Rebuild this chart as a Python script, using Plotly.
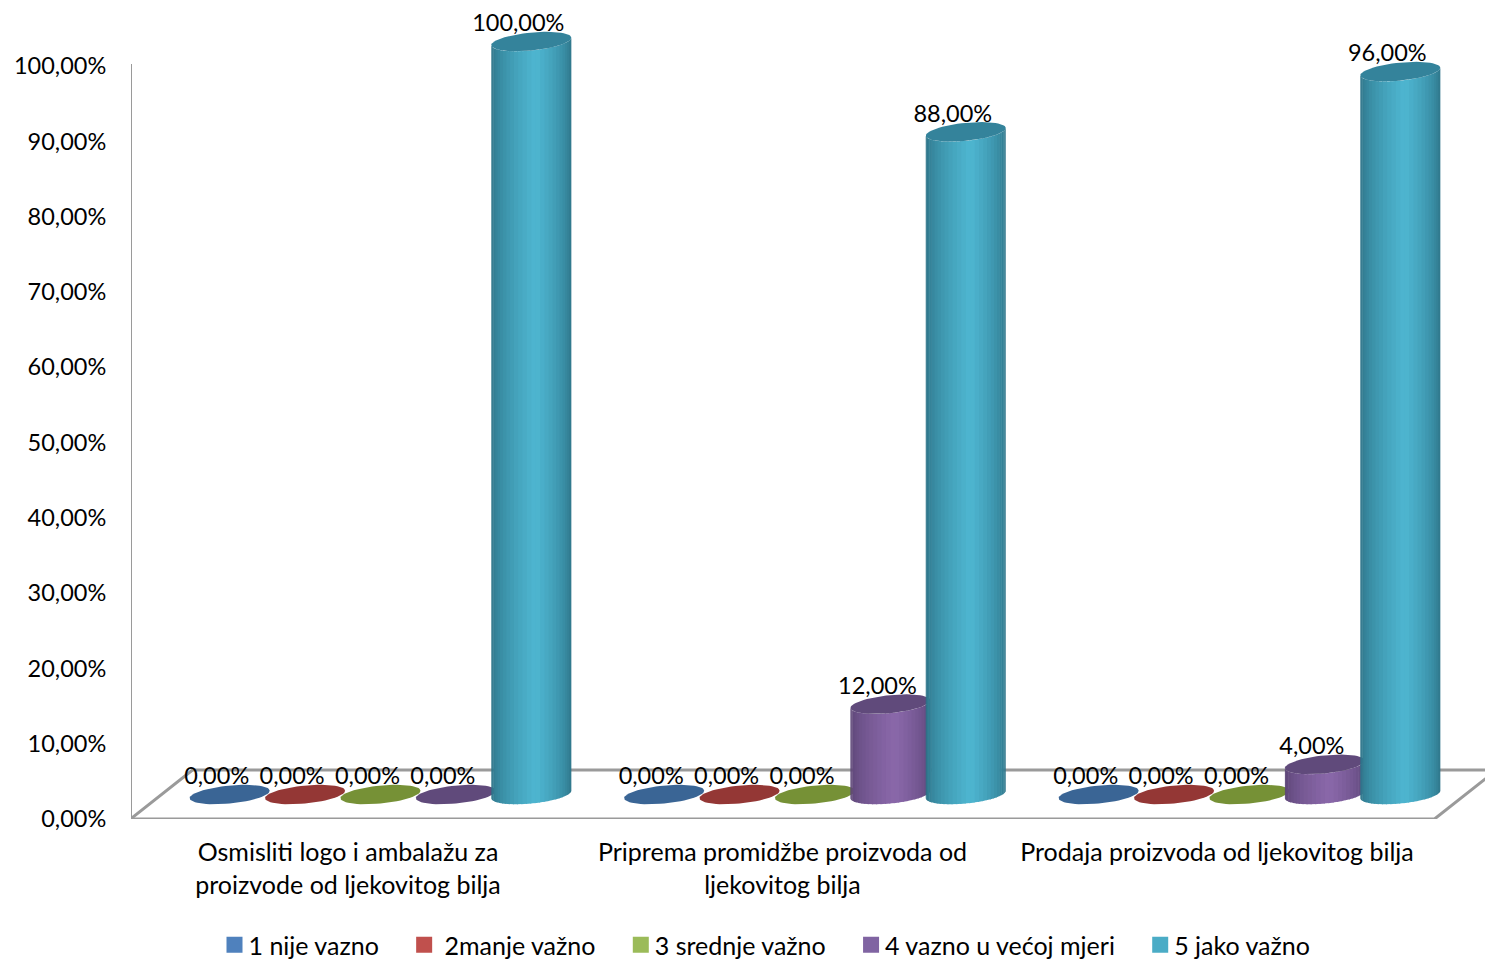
import math
import plotly.graph_objects as go

GAP = "\u00a0\u00a0\u00a0\u2009"
categories = ["Osmisliti logo i ambalažu za<br>proizvode od ljekovitog bilja",
              "Priprema promidžbe proizvoda od<br>ljekovitog bilja",
              "Prodaja proizvoda od ljekovitog bilja"]
series_names = ["1 nije vazno" + GAP, "\u00a02manje važno" + GAP,
                "3 srednje važno" + GAP, "4 vazno u većoj mjeri" + GAP, "5 jako važno"]
s1 = [0, 0, 0]
s2 = [0, 0, 0]
s3 = [0, 0, 0]
s4 = [0, 12, 4]
s5 = [100, 88, 96]
y_ticks = [0, 10, 20, 30, 40, 50, 60, 70, 80, 90, 100]

legend_colors = ["#4f81bd", "#c0504d", "#9bbb59", "#8064a2", "#4bacc6"]
cap_colors = ["#3a6595", "#943735", "#769136", "#604a7b", "#34839b"]
edge_colors = [(46, 80, 120), (120, 45, 43), (95, 118, 45), (88, 66, 114), (42, 110, 130)]
mid_colors = [(79, 129, 189), (192, 80, 77), (155, 187, 89), (138, 104, 170), (78, 182, 209)]
series = [s1, s2, s3, s4, s5]

W, H = 1485, 960
X0_PX, CAT_PX = 348.0, 434.5        # first category centre, category pitch
Y0_PX, PX_PER_UNIT = 819.0, 7.53    # value 0 position, pixels per percent
SLOT_PX, GROUP_SHIFT = 75.4, 32.5
A, B, TILT = 40.0, 9.0, 3.8         # cylinder ellipse
FLOOR_LIFT = 24.5


def dx(px):
    return px / CAT_PX


def dy(px):
    return px / PX_PER_UNIT


def pct(v):
    return ("%.2f" % v).replace(".", ",") + "%"


def ellipse(cx, v, t):
    """Point on a cylinder ring at value v; returns data coords."""
    return (cx + dx(A * math.cos(t)),
            v + dy(FLOOR_LIFT) - dy(B * math.sin(t) - TILT * math.cos(t)))


def shade(s, t):
    u = math.cos(t)
    f = max(0.0, 1 - abs(u - 0.1) / (1.1 if u < 0.1 else 0.9)) ** 0.55
    return "rgb(%d,%d,%d)" % tuple(round(e + (m - e) * f) for e, m in zip(edge_colors[s], mid_colors[s]))


fig = go.Figure()

# frame / floor
FX = 1304 / CAT_PX
left = dx(130.5 - X0_PX)
fig.add_trace(go.Scatter(
    x=[left, left, left + FX, left + FX + dx(62), None, left, left + dx(62), left + FX + dx(62)],
    y=[100 + dy(2), 0, 0, dy(49), None, 0, dy(49), dy(49)],
    mode="lines", line=dict(color="#9a9a9a", width=3), showlegend=False, hoverinfo="skip",
    cliponaxis=False))

N = 28
for c in range(len(categories)):
    for s, vals in enumerate(series):
        cx = c + dx(GROUP_SHIFT + (s - 2) * SLOT_PX)
        v = vals[c]
        if v > 0:
            for i in range(N):
                t0 = math.pi * i / N
                t1 = min(math.pi * (i + 1.25) / N, math.pi)
                b0, b1 = ellipse(cx, 0, t0), ellipse(cx, 0, t1)
                a0, a1 = ellipse(cx, v, t0), ellipse(cx, v, t1)
                col = shade(s, (t0 + t1) / 2)
                fig.add_trace(go.Scatter(
                    x=[a0[0], a1[0], b1[0], b0[0]], y=[a0[1], a1[1], b1[1], b0[1]],
                    mode="lines", fill="toself", fillcolor=col, line=dict(width=0),
                    showlegend=False, hoverinfo="skip"))
        pts = [ellipse(cx, v, 2 * math.pi * k / 60) for k in range(61)]
        fig.add_trace(go.Scatter(
            x=[p[0] for p in pts], y=[p[1] for p in pts],
            mode="lines", fill="toself", fillcolor=cap_colors[s], line=dict(width=0),
            showlegend=False, hoverinfo="skip"))

# data labels
lx, ly, lt = [], [], []
for c in range(len(categories)):
    for s, vals in enumerate(series):
        lx.append(c + dx(GROUP_SHIFT + (s - 2) * SLOT_PX - 13))
        ly.append(vals[c] + dy(FLOOR_LIFT + 16))
        lt.append(pct(vals[c]))
fig.add_trace(go.Scatter(x=lx, y=ly, text=lt, mode="text", textposition="middle center",
                         textfont=dict(family="Lato", size=23.5, color="#000000"),
                         showlegend=False, hoverinfo="skip"))

# legend
for name, col in zip(series_names, legend_colors):
    fig.add_trace(go.Scatter(x=[None], y=[None], mode="markers", name=name,
                             marker=dict(symbol="square", size=16, color=col)))

fig.update_layout(
    width=W, height=H, autosize=False,
    margin=dict(l=131, r=0, t=0, b=H - int(Y0_PX)),
    paper_bgcolor="white", plot_bgcolor="white",
    font=dict(family="Lato", size=25, color="#000000"),
    xaxis=dict(range=[(131 - X0_PX) / CAT_PX, (W - X0_PX) / CAT_PX],
               tickmode="array", tickvals=[0, 1, 2], ticktext=categories,
               tickfont=dict(family="Lato", size=25),
               showgrid=False, zeroline=False, showline=False,
               ticks="outside", ticklen=11, tickcolor="white", tickwidth=0),
    yaxis=dict(range=[0, Y0_PX / PX_PER_UNIT],
               tickmode="array", tickvals=y_ticks, ticktext=[pct(t) for t in y_ticks],
               tickfont=dict(family="Lato", size=23.5),
               showgrid=False, zeroline=False, showline=False,
               ticks="outside", ticklen=19, tickcolor="white", tickwidth=0),
    legend=dict(orientation="h", xref="container", yref="container",
                x=216.5 / W, y=1 - 922 / H, yanchor="top", xanchor="left",
                font=dict(family="Lato", size=25), itemsizing="trace", indentation=-8,
                bgcolor="rgba(0,0,0,0)"),
)
fig.write_html(
    "out.html",
    config={"displayModeBar": False},
    post_script="document.body.style.margin='0';"
                "document.querySelectorAll('.legendsymbols').forEach(function(e){"
                "e.setAttribute('transform','translate(6,0)');});",
)
